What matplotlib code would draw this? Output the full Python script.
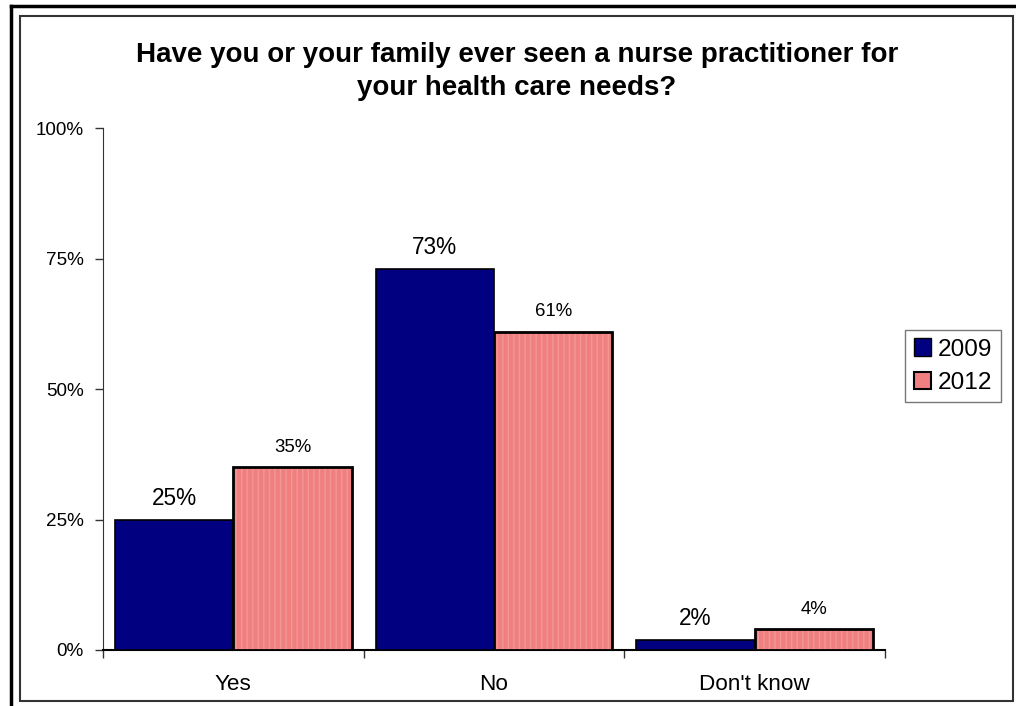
import matplotlib.pyplot as plt
import numpy as np
from matplotlib.patches import Rectangle
from matplotlib.lines import Line2D

categories = ['Yes', 'No', "Don't know"]
vals_2009 = [25, 73, 2]
vals_2012 = [35, 61, 4]
series_names = ['2009', '2012']

plt.rcParams['font.family'] = ['Liberation Sans', 'DejaVu Sans']

fig = plt.figure(figsize=(10.16, 7.06), dpi=100)
ax = fig.add_axes([103 / 1016, 1 - 650 / 706, (885 - 103) / 1016, (650 - 128) / 706])

x = np.arange(len(categories))
w = 1 / 2.2
navy = '#000080'
salmon = '#F08080'

ax.bar(x - w / 2, vals_2009, w, color=navy, edgecolor='black', linewidth=1.2, zorder=3)
# 2012 bars: faint vertical stripes, then black outline on top
ax.bar(x + w / 2, vals_2012, w, color=salmon, edgecolor='#F39696', hatch='|||', linewidth=0, zorder=3)
ax.bar(x + w / 2, vals_2012, w, facecolor='none', edgecolor='black', linewidth=2, zorder=4)

for xi, v in zip(x - w / 2, vals_2009):
    ax.annotate(f'{v}%', (xi, v), xytext=(0, 7), textcoords='offset points',
                ha='center', va='bottom', fontsize=16.3)
for xi, v in zip(x + w / 2, vals_2012):
    ax.annotate(f'{v}%', (xi, v), xytext=(0, 8), textcoords='offset points',
                ha='center', va='bottom', fontsize=13.4)

ax.set_xlim(-0.5, 2.5)
ax.set_ylim(0, 100)
ax.set_yticks([0, 25, 50, 75, 100])
ax.set_yticklabels(['0%', '25%', '50%', '75%', '100%'], fontsize=13.6)
ax.set_xticks(x)
ax.set_xticklabels(categories, fontsize=16.2)
ax.set_xticks([-0.5, 0.5, 1.5, 2.5], minor=True)
ax.tick_params(axis='x', which='major', length=0, pad=17)
ax.tick_params(axis='x', which='minor', length=6, width=1, color='#333333', direction='out')
ax.tick_params(axis='y', length=6, width=1, color='#333333', direction='out', pad=8)

ax.spines['top'].set_visible(False)
ax.spines['right'].set_visible(False)
ax.spines['left'].set_color('#333333')
ax.spines['bottom'].set_color('black')
ax.spines['bottom'].set_linewidth(1.5)

fig.text(517 / 1016, 1 - 71.5 / 706,
         'Have you or your family ever seen a nurse practitioner for\nyour health care needs?',
         ha='center', va='center', fontsize=20, fontweight='bold', linespacing=1.32)

handles = [Rectangle((0, 0), 1, 1, facecolor=navy, edgecolor='black', linewidth=1),
           Rectangle((0, 0), 1, 1, facecolor=salmon, edgecolor='black', linewidth=1.5)]
leg = fig.legend(handles, series_names, loc='center', bbox_to_anchor=(953 / 1016, 1 - 366 / 706),
                 fontsize=17.6, frameon=True, fancybox=False, handlelength=0.7, handleheight=0.7,
                 handletextpad=0.3, borderpad=0.35, labelspacing=0.45, borderaxespad=0)
leg.get_frame().set_edgecolor('#555555')
leg.get_frame().set_linewidth(1)

# outer frames
fig.add_artist(Line2D([11 / 1016, 11 / 1016], [0, 1 - 6 / 706], color='black', lw=2.5, transform=fig.transFigure))
fig.add_artist(Line2D([11 / 1016, 1], [1 - 6 / 706, 1 - 6 / 706], color='black', lw=2.5, transform=fig.transFigure))
fig.add_artist(Rectangle((20 / 1016, 1 - 701 / 706), (1013 - 20) / 1016, (701 - 16) / 706,
                         fill=False, edgecolor='#333333', lw=1.5, transform=fig.transFigure))

fig.savefig('out.png', dpi=100)
